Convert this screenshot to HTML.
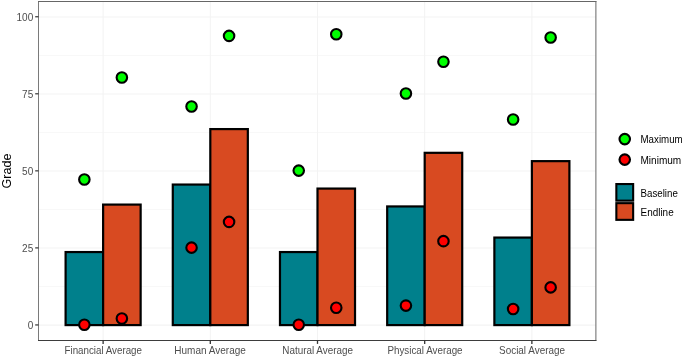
<!DOCTYPE html><html><head><meta charset="utf-8"><title>Chart</title><style>html,body{margin:0;padding:0;background:#fff}</style></head><body><svg width="685" height="358" viewBox="0 0 685 358" style="display:block;font-family:'Liberation Sans',Arial,sans-serif">
<rect width="685" height="358" fill="#fff"/>
<line x1="38.5" x2="595.9" y1="286.57" y2="286.57" stroke="#ebebeb" stroke-width="0.35"/>
<line x1="38.5" x2="595.9" y1="209.52" y2="209.52" stroke="#ebebeb" stroke-width="0.35"/>
<line x1="38.5" x2="595.9" y1="132.48" y2="132.48" stroke="#ebebeb" stroke-width="0.35"/>
<line x1="38.5" x2="595.9" y1="55.43" y2="55.43" stroke="#ebebeb" stroke-width="0.35"/>
<line x1="38.5" x2="595.9" y1="325.09" y2="325.09" stroke="#f3f3f3" stroke-width="1.07"/>
<line x1="38.5" x2="595.9" y1="248.05" y2="248.05" stroke="#f3f3f3" stroke-width="1.07"/>
<line x1="38.5" x2="595.9" y1="171.00" y2="171.00" stroke="#f3f3f3" stroke-width="1.07"/>
<line x1="38.5" x2="595.9" y1="93.95" y2="93.95" stroke="#f3f3f3" stroke-width="1.07"/>
<line x1="38.5" x2="595.9" y1="16.91" y2="16.91" stroke="#f3f3f3" stroke-width="1.07"/>
<line x1="103.12" x2="103.12" y1="1.5" y2="340.5" stroke="#f3f3f3" stroke-width="1.07"/>
<line x1="210.31" x2="210.31" y1="1.5" y2="340.5" stroke="#f3f3f3" stroke-width="1.07"/>
<line x1="317.50" x2="317.50" y1="1.5" y2="340.5" stroke="#f3f3f3" stroke-width="1.07"/>
<line x1="424.69" x2="424.69" y1="1.5" y2="340.5" stroke="#f3f3f3" stroke-width="1.07"/>
<line x1="531.88" x2="531.88" y1="1.5" y2="340.5" stroke="#f3f3f3" stroke-width="1.07"/>
<rect x="65.60" y="252.05" width="37.52" height="73.04" fill="#00808c" stroke="#000" stroke-width="2.2"/>
<rect x="103.12" y="204.59" width="37.52" height="120.50" fill="#d84a21" stroke="#000" stroke-width="2.2"/>
<rect x="172.79" y="184.56" width="37.52" height="140.53" fill="#00808c" stroke="#000" stroke-width="2.2"/>
<rect x="210.31" y="129.09" width="37.52" height="196.00" fill="#d84a21" stroke="#000" stroke-width="2.2"/>
<rect x="279.98" y="252.05" width="37.52" height="73.04" fill="#00808c" stroke="#000" stroke-width="2.2"/>
<rect x="317.50" y="188.57" width="37.52" height="136.52" fill="#d84a21" stroke="#000" stroke-width="2.2"/>
<rect x="387.18" y="206.44" width="37.52" height="118.65" fill="#00808c" stroke="#000" stroke-width="2.2"/>
<rect x="424.69" y="152.82" width="37.52" height="172.27" fill="#d84a21" stroke="#000" stroke-width="2.2"/>
<rect x="494.37" y="237.57" width="37.52" height="87.52" fill="#00808c" stroke="#000" stroke-width="2.2"/>
<rect x="531.88" y="161.14" width="37.52" height="163.95" fill="#d84a21" stroke="#000" stroke-width="2.2"/>
<circle cx="84.36" cy="179.54" r="5.25" fill="#00ff00" stroke="#000" stroke-width="2.1"/>
<circle cx="121.87" cy="77.53" r="5.25" fill="#00ff00" stroke="#000" stroke-width="2.1"/>
<circle cx="84.36" cy="324.69" r="5.25" fill="#ff0000" stroke="#000" stroke-width="2.1"/>
<circle cx="121.87" cy="318.53" r="5.25" fill="#ff0000" stroke="#000" stroke-width="2.1"/>
<circle cx="191.55" cy="106.50" r="5.25" fill="#00ff00" stroke="#000" stroke-width="2.1"/>
<circle cx="229.07" cy="35.92" r="5.25" fill="#00ff00" stroke="#000" stroke-width="2.1"/>
<circle cx="191.55" cy="247.65" r="5.25" fill="#ff0000" stroke="#000" stroke-width="2.1"/>
<circle cx="229.07" cy="221.91" r="5.25" fill="#ff0000" stroke="#000" stroke-width="2.1"/>
<circle cx="298.74" cy="170.60" r="5.25" fill="#00ff00" stroke="#000" stroke-width="2.1"/>
<circle cx="336.26" cy="34.23" r="5.25" fill="#00ff00" stroke="#000" stroke-width="2.1"/>
<circle cx="298.74" cy="324.69" r="5.25" fill="#ff0000" stroke="#000" stroke-width="2.1"/>
<circle cx="336.26" cy="307.74" r="5.25" fill="#ff0000" stroke="#000" stroke-width="2.1"/>
<circle cx="405.93" cy="93.55" r="5.25" fill="#00ff00" stroke="#000" stroke-width="2.1"/>
<circle cx="443.45" cy="61.81" r="5.25" fill="#00ff00" stroke="#000" stroke-width="2.1"/>
<circle cx="405.93" cy="305.58" r="5.25" fill="#ff0000" stroke="#000" stroke-width="2.1"/>
<circle cx="443.45" cy="241.17" r="5.25" fill="#ff0000" stroke="#000" stroke-width="2.1"/>
<circle cx="513.13" cy="119.44" r="5.25" fill="#00ff00" stroke="#000" stroke-width="2.1"/>
<circle cx="550.64" cy="37.47" r="5.25" fill="#00ff00" stroke="#000" stroke-width="2.1"/>
<circle cx="513.13" cy="308.97" r="5.25" fill="#ff0000" stroke="#000" stroke-width="2.1"/>
<circle cx="550.64" cy="287.40" r="5.25" fill="#ff0000" stroke="#000" stroke-width="2.1"/>
<line x1="38.5" x2="38.5" y1="1.0" y2="341.0" stroke="#7a7a7a" stroke-width="1"/>
<line x1="595.9" x2="595.9" y1="1.0" y2="341.0" stroke="#666" stroke-width="1"/>
<line x1="38.0" x2="596.4" y1="1.5" y2="1.5" stroke="#666" stroke-width="1"/>
<line x1="38.0" x2="596.4" y1="340.5" y2="340.5" stroke="#3d3d3d" stroke-width="1"/>
<line x1="35.2" x2="38.5" y1="324.94" y2="324.94" stroke="#333" stroke-width="1.2"/>
<text transform="translate(33.20,329.09) scale(1,1)" font-size="10" fill="#4d4d4d" text-anchor="end">0</text>
<line x1="35.2" x2="38.5" y1="247.90" y2="247.90" stroke="#333" stroke-width="1.2"/>
<text transform="translate(33.20,252.05) scale(1,1)" font-size="10" fill="#4d4d4d" text-anchor="end">25</text>
<line x1="35.2" x2="38.5" y1="170.85" y2="170.85" stroke="#333" stroke-width="1.2"/>
<text transform="translate(33.20,175.00) scale(1,1)" font-size="10" fill="#4d4d4d" text-anchor="end">50</text>
<line x1="35.2" x2="38.5" y1="93.80" y2="93.80" stroke="#333" stroke-width="1.2"/>
<text transform="translate(33.20,97.95) scale(1,1)" font-size="10" fill="#4d4d4d" text-anchor="end">75</text>
<line x1="35.2" x2="38.5" y1="16.76" y2="16.76" stroke="#333" stroke-width="1.2"/>
<text transform="translate(33.20,20.91) scale(1,1)" font-size="10" fill="#4d4d4d" text-anchor="end">100</text>
<line x1="103.12" x2="103.12" y1="340.5" y2="343.9" stroke="#333" stroke-width="1.3"/>
<text transform="translate(103.22,353.5) scale(0.978,1)" font-size="10" fill="#4d4d4d" text-anchor="middle">Financial Average</text>
<line x1="210.31" x2="210.31" y1="340.5" y2="343.9" stroke="#333" stroke-width="1.3"/>
<text transform="translate(210.11,353.5) scale(1.001,1)" font-size="10" fill="#4d4d4d" text-anchor="middle">Human Average</text>
<line x1="317.50" x2="317.50" y1="340.5" y2="343.9" stroke="#333" stroke-width="1.3"/>
<text transform="translate(317.65,353.5) scale(0.991,1)" font-size="10" fill="#4d4d4d" text-anchor="middle">Natural Average</text>
<line x1="424.69" x2="424.69" y1="340.5" y2="343.9" stroke="#333" stroke-width="1.3"/>
<text transform="translate(424.99,353.5) scale(0.982,1)" font-size="10" fill="#4d4d4d" text-anchor="middle">Physical Average</text>
<line x1="531.88" x2="531.88" y1="340.5" y2="343.9" stroke="#333" stroke-width="1.3"/>
<text transform="translate(532.03,353.5) scale(0.992,1)" font-size="10" fill="#4d4d4d" text-anchor="middle">Social Average</text>
<text transform="translate(11.4,171.00) rotate(-90) scale(1.03,1)" font-size="12.2" fill="#000" text-anchor="middle">Grade</text>
<circle cx="624.75" cy="139.1" r="5.25" fill="#00ff00" stroke="#000" stroke-width="2.1"/>
<circle cx="624.75" cy="159.6" r="5.25" fill="#ff0000" stroke="#000" stroke-width="2.1"/>
<text transform="translate(640.5,143.0) scale(0.974,1)" font-size="10" fill="#000">Maximum</text>
<text transform="translate(640.5,163.8) scale(1.006,1)" font-size="10" fill="#000">Minimum</text>
<rect x="616.35" y="184.05" width="16.8" height="16.6" fill="#00808c" stroke="#000" stroke-width="2.1"/>
<rect x="616.35" y="203.15" width="16.8" height="16.7" fill="#d84a21" stroke="#000" stroke-width="2.1"/>
<text transform="translate(640.5,197.0) scale(0.974,1)" font-size="10" fill="#000">Baseline</text>
<text transform="translate(640.5,216.2) scale(0.994,1)" font-size="10" fill="#000">Endline</text>
</svg></body></html>
